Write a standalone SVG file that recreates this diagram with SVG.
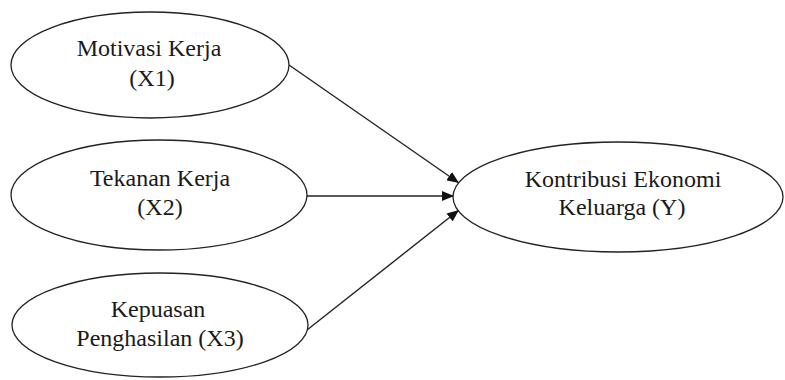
<svg xmlns="http://www.w3.org/2000/svg" width="785" height="380" viewBox="0 0 785 380">
<style>
.node ellipse{fill:#fff;stroke:#222;stroke-width:1.3}
.node text{font-family:'Liberation Serif','Times New Roman',serif;font-size:24px;fill:#1a1a1a;text-anchor:middle}
.conn line{stroke:#222;stroke-width:1.4;marker-end:url(#ah)}
</style>
<defs>
<marker id="ah" viewBox="0 0 12 10" refX="12" refY="5" markerWidth="12" markerHeight="10" markerUnits="userSpaceOnUse" orient="auto">
<path d="M0,0 L12,5 L0,10 Z" fill="#111"/>
</marker>
</defs>
<rect width="785" height="380" fill="#fff"/>
<g class="conn">
<line x1="289" y1="65" x2="459" y2="183"/>
<line x1="307" y1="196" x2="454" y2="196"/>
<line x1="307" y1="330" x2="459" y2="210"/>
</g>
<g id="x1" class="node">
<ellipse cx="150" cy="65" rx="139" ry="53"/>
<text x="149" y="56">Motivasi Kerja</text>
<text x="152" y="86">(X1)</text>
</g>
<g id="x2" class="node">
<ellipse cx="159" cy="195" rx="148" ry="55"/>
<text x="160" y="186">Tekanan Kerja</text>
<text x="160" y="215">(X2)</text>
</g>
<g id="x3" class="node">
<ellipse cx="160" cy="325" rx="148" ry="52"/>
<text x="158" y="317">Kepuasan</text>
<text x="160" y="346">Penghasilan (X3)</text>
</g>
<g id="y" class="node">
<ellipse cx="618" cy="197" rx="165" ry="55"/>
<text x="623" y="187">Kontribusi Ekonomi</text>
<text x="622" y="215">Keluarga (Y)</text>
</g>
</svg>
